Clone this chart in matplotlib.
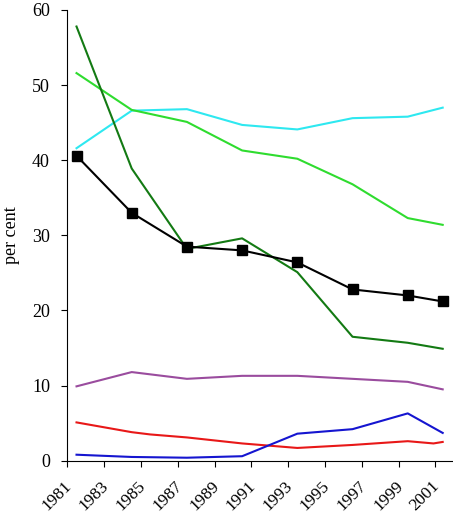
import matplotlib
matplotlib.use("Agg")
import matplotlib.pyplot as plt
import matplotlib.transforms as mtransforms

plt.rcParams['font.family'] = ['Liberation Serif', 'DejaVu Serif']

# survey years (as placed on the chart)
years = [1981.5, 1984.5, 1987.5, 1990.5, 1993.5, 1996.5, 1999.5, 2001.4]

black = [40.6, 33.0, 28.5, 28.0, 26.4, 22.8, 22.0, 21.2]
dark_green = [57.8, 38.9, 28.2, 29.6, 25.1, 16.5, 15.7, 14.9]
light_green = [51.6, 46.7, 45.1, 41.3, 40.2, 36.8, 32.3, 31.4]
cyan = [41.6, 46.6, 46.8, 44.7, 44.1, 45.6, 45.8, 47.0]
purple = [9.9, 11.8, 10.9, 11.3, 11.3, 10.9, 10.5, 9.5]
blue = [0.8, 0.5, 0.4, 0.6, 3.6, 4.2, 6.3, 3.7]

red_years = [1981.5, 1984.5, 1985.5, 1987.5, 1990.5, 1993.5, 1996.5, 1999.5, 2000.9, 2001.4]
red = [5.1, 3.8, 3.5, 3.1, 2.3, 1.7, 2.1, 2.6, 2.3, 2.5]

tick_years = list(range(1981, 2002, 2))

fig = plt.figure(figsize=(4.53, 5.15), dpi=100)
ax = fig.add_axes([0.1486, 0.1054, 0.8514, 0.8752])

lw = 1.5
ax.plot(years, cyan, color='#2ee8f0', lw=lw)
ax.plot(years, light_green, color='#2fdc2f', lw=lw)
ax.plot(years, dark_green, color='#137a13', lw=lw)
ax.plot(years, purple, color='#9a4c9e', lw=lw)
ax.plot(red_years, red, color='#e81818', lw=lw)
ax.plot(years, blue, color='#1515d0', lw=lw)
ax.plot(years, black, color='black', lw=lw, marker='s', markersize=7)

ax.set_xlim(1981, 2001.96)
ax.set_ylim(0, 60)
ax.set_yticks([0, 10, 20, 30, 40, 50, 60])
ax.set_xticks(tick_years)
ax.set_xticklabels([str(y) for y in tick_years], rotation=45, ha='right',
                   rotation_mode='anchor')
ax.tick_params(labelsize=13, length=4.5, width=0.8)
ax.tick_params(axis='x', labelsize=12.5)
ax.tick_params(axis='y', pad=8)

# nudge the rotated year labels like in the original
shift = mtransforms.ScaledTranslation(-0.035, -0.065, fig.dpi_scale_trans)
for lab in ax.get_xticklabels():
    lab.set_transform(lab.get_transform() + shift)

ax.set_ylabel('per cent', fontsize=13)
ax.yaxis.set_label_coords(-0.123, 0.5)

ax.spines['top'].set_visible(False)
ax.spines['right'].set_visible(False)

fig.savefig('out.png', dpi=100)
